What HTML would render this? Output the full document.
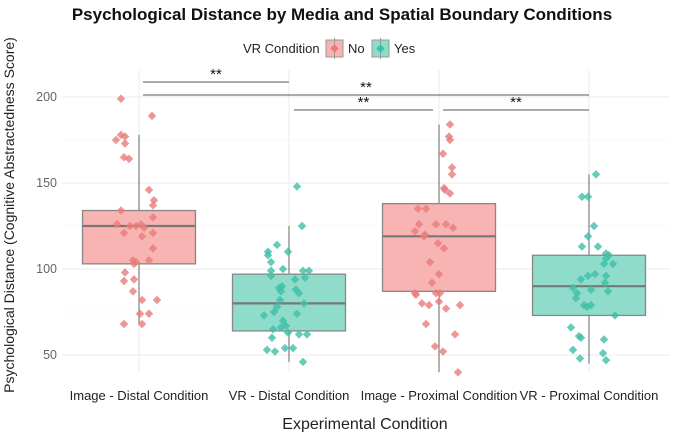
<!DOCTYPE html>
<html><head><meta charset="utf-8"><style>
body{margin:0;background:#fff;font-family:"Liberation Sans",sans-serif}
</style></head><body>
<svg id="chart" width="685" height="432" xmlns="http://www.w3.org/2000/svg" font-family="Liberation Sans, sans-serif">
<text x="342" y="20" text-anchor="middle" font-size="17" font-weight="bold" fill="#111">Psychological Distance by Media and Spatial Boundary Conditions</text>
<g>
<text x="243" y="53" font-size="13" fill="#222">VR Condition</text>
<g><rect x="326" y="40" width="17" height="17" fill="#f8b4b2" stroke="#999"/><line x1="334.5" y1="38" x2="334.5" y2="59" stroke="#999"/><rect x="331.5" y="45.5" width="6" height="6" fill="#e87c7a" transform="rotate(45 334.5 48.5)"/><text x="348" y="53" font-size="13" fill="#222">No</text></g>
<g><rect x="372" y="40" width="17" height="17" fill="#8fdccb" stroke="#999"/><line x1="380.5" y1="38" x2="380.5" y2="59" stroke="#999"/><rect x="377.5" y="45.5" width="6" height="6" fill="#3fbfa8" transform="rotate(45 380.5 48.5)"/><text x="394" y="53" font-size="13" fill="#222">Yes</text></g>
</g>
<g id="grid"></g><g id="boxes"></g><g id="pts"></g><g id="sig"></g><g id="axes"></g>
<text transform="translate(14,215) rotate(-90)" text-anchor="middle" font-size="14" fill="#222">Psychological Distance (Cognitive Abstractedness Score)</text>
<text x="365" y="429" text-anchor="middle" font-size="16" fill="#222">Experimental Condition</text>
</svg>
<script>
const categories=["Image - Distal Condition","VR - Distal Condition","Image - Proximal Condition","VR - Proximal Condition"];
const vrGroup=["No","Yes","No","Yes"];
const q1=[103,64,87,73];
const median=[125,80,119,90];
const q3=[134,97,138,108];
const whiskLo=[68,46,40,45];
const whiskHi=[178,125,184,155];
const yTicks=[50,100,150,200];
const pts0=[199,189,178,177,175,173,165,164,146,140,137,134,130,126,125,125,126,124,121,119,121,112,105,104,105,103,98,94,93,87,82,82,74,74,68,68];
const jit0=[-18,13,-18,-14,-23,-14,-15,-10,10,15,14,-18,14,-22,-9,-3,2,5,-15,3,14,14,-6,-3,10,-5,-14,-5,-15,-6,3,18,1,10,-15,3];
const pts1=[148,125,114,110,110,108,104,100,99,99,99,96,95,94,90,89,88,87,86,82,80,78,75,74,73,70,67,65,66,63,62,62,60,54,54,53,52,46];
const jit1=[8,13,-12,-21,-1,-21,-18,-6,-18,14,20,-18,16,6,-7,-10,7,-8,10,-9,15,-12,-15,8,-25,-6,-3,-16,-8,-1,10,18,-17,-4,4,-22,-14,14];
const pts2=[184,177,175,167,159,155,147,146,144,135,135,126,126,126,124,122,120,119,115,112,104,97,92,86,85,86,86,80,79,81,79,77,68,62,55,52,40];
const jit2=[11,10,11,4,13,13,5,6,11,-21,-13,-20,-3,7,14,-24,-14,-15,-1,5,-9,0,-7,-24,-23,-3,1,-17,-10,0,21,7,-13,16,-4,4,19];
const pts3=[155,142,142,125,119,113,113,109,108,106,103,103,96,97,96,94,92,89,88,86,87,83,79,78,79,73,66,61,60,59,53,51,48,47];
const jit3=[7,-7,-1,5,-1,-7,9,17,20,17,15,24,-1,6,17,-8,16,-16,2,-12,19,-13,-5,-2,2,26,-18,-10,-8,15,-16,14,-9,17];
const points=[pts0,pts1,pts2,pts3];
const jitter=[jit0,jit1,jit2,jit3];
const sigFrom=[0,0,1,2],sigTo=[1,3,2,3],sigLevel=[82,95,110,110],sigLabel=["**","**","**","**"];

const NS="http://www.w3.org/2000/svg";
const X0=62,X1=670,YT=70,YB=372;
const y=v=>97+(200-v)*1.72;
const x=i=>139+i*150;
const BW=113;
const fill={No:"#f8b4b2",Yes:"#8fdccb"},pc={No:"#e87c7a",Yes:"#3fbfa8"};
function mk(tag,attrs,parent){const e=document.createElementNS(NS,tag);for(const k in attrs)e.setAttribute(k,attrs[k]);document.getElementById(parent).appendChild(e);return e;}
for(let v=50;v<=200;v+=25){const g=mk("line",{x1:X0,x2:X1,y1:y(v),y2:y(v),stroke:v%50?"#f3f3f3":"#ebebeb","stroke-width":v%50?0.6:1},"grid");

}
categories.forEach((c,i)=>{const g=mk("line",{x1:x(i),x2:x(i),y1:YT,y2:YB,stroke:"#ebebeb"},"grid");


const t=mk("text",{x:x(i),y:400,"text-anchor":"middle","font-size":13,fill:"#222"},"axes");t.textContent=c;

});
yTicks.forEach(v=>{const t=mk("text",{x:57,y:y(v)+4,"text-anchor":"end","font-size":12.5,fill:"#666"},"axes");t.textContent=v;

});
categories.forEach((c,i)=>{const grp=vrGroup[i];
const w=mk("line",{x1:x(i),x2:x(i),y1:y(whiskHi[i]),y2:y(whiskLo[i]),stroke:"#888","stroke-width":1.3},"boxes");


const b=mk("rect",{x:x(i)-BW/2,y:y(q3[i]),width:BW,height:y(q1[i])-y(q3[i]),fill:fill[grp],stroke:"#888","stroke-width":1.3},"boxes");


const m=mk("line",{x1:x(i)-BW/2,x2:x(i)+BW/2,y1:y(median[i]),y2:y(median[i]),stroke:"#777","stroke-width":2.2},"boxes");


points[i].forEach((v,k)=>{const cx=x(i)+jitter[i][k],cy=y(v);
const p=mk("rect",{x:cx-3,y:cy-3,width:6,height:6,fill:pc[grp],"fill-opacity":0.8,transform:`rotate(45 ${cx} ${cy})`},"pts");

});});
sigFrom.forEach((a,k)=>{const x1=x(a)+(a===1?5:4),x2=x(sigTo[k])+(sigTo[k]===2?-6:0);
const l=mk("line",{x1:x1,x2:x2,y1:sigLevel[k],y2:sigLevel[k],stroke:"#777","stroke-width":1.2},"sig");


const t=mk("text",{x:(x1+x2)/2,y:sigLevel[k]-3,"text-anchor":"middle","font-size":15,fill:"#111"},"sig");t.textContent=sigLabel[k];

});
</script>
</body></html>
